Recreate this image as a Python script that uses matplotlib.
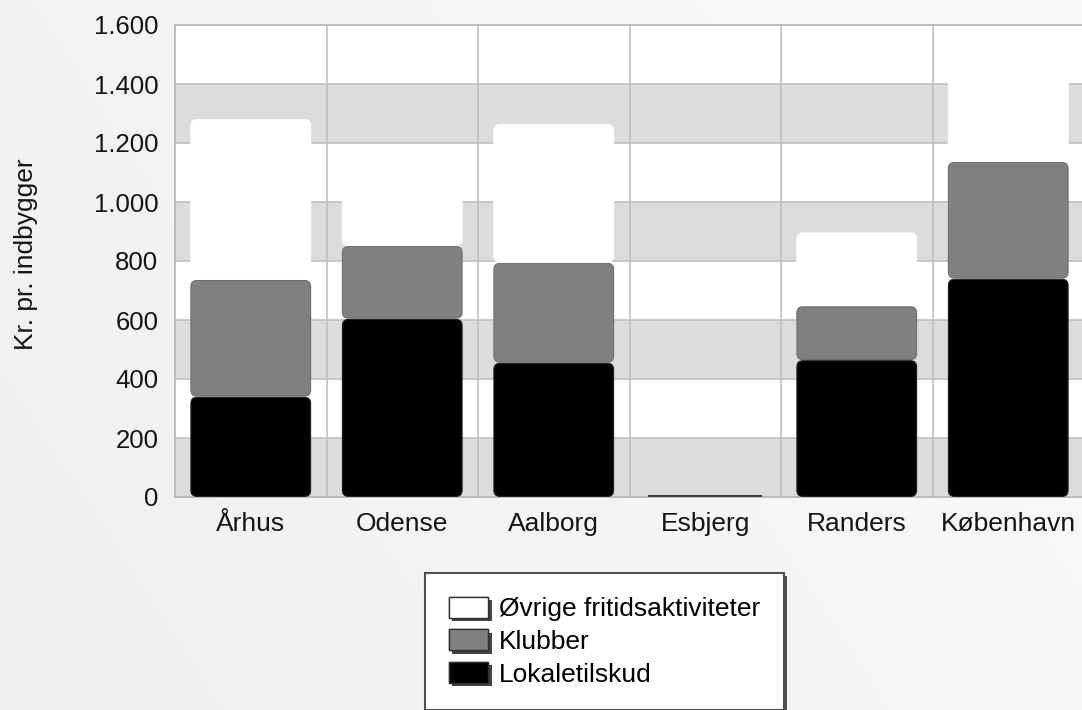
import numpy as np
import matplotlib
matplotlib.use("Agg")
import matplotlib.pyplot as plt
from matplotlib.patches import FancyBboxPatch, Patch
import matplotlib.patheffects as pe
from matplotlib.ticker import FuncFormatter

# data (kr. pr. indbygger)
byer = ["Århus", "Odense", "Aalborg", "Esbjerg", "Randers", "København"]
lokaletilskud = [340, 604, 455, 4, 464, 740]
klubber = [396, 247, 339, 0, 183, 396]
oevrige = [545, 250, 470, 0, 250, 420]

serier = ["Lokaletilskud", "Klubber", "Øvrige fritidsaktiviteter"]
farver = ["#000000", "#808080", "#ffffff"]
kanter = ["#202020", "#707070", "#ffffff"]

plt.rcParams["font.family"] = ["Liberation Sans", "DejaVu Sans"]
tekst = "#151515"

W, H = 1082, 710
fig = plt.figure(figsize=(W / 100, H / 100), dpi=100)

# diagonal gradient background
bg = fig.add_axes([0, 0, 1, 1], zorder=-10)
xx, yy = np.meshgrid(np.linspace(0, 1, 200), np.linspace(0, 1, 200))
grad = 0.935 + 0.045 * np.clip(0.7 * xx + 0.3 * (1 - yy), 0, 1)
bg.imshow(grad, cmap="gray", vmin=0, vmax=1, aspect="auto", extent=[0, 1, 0, 1])
bg.axis("off")

x0, x1 = 175, 1084
ytop, ybot = 25, 497
ax = fig.add_axes([x0 / W, 1 - ybot / H, (x1 - x0) / W, (ybot - ytop) / H])
ax.set_xlim(-0.5, 5.5)
ax.set_ylim(0, 1600)
ax.set_facecolor("white")

# alternating bands + grid
for lo in range(0, 1600, 400):
    ax.axhspan(lo, lo + 200, color="#dcdcdc", lw=0, zorder=0)
for v in range(200, 1600, 200):
    ax.axhline(v, color="#c0c0c0", lw=1.2, zorder=0.5)
for b in np.arange(0.5, 5.5, 1):
    ax.axvline(b, color="#c0c0c0", lw=1.2, zorder=0.5)

for s in ax.spines.values():
    s.set_color("#b4b4b4")
    s.set_linewidth(1.2)
ax.spines["right"].set_visible(False)

# rounded stacked bars
px_x = (x1 - x0) / 6.0
px_y = (ybot - ytop) / 1600.0
aspect = (1 / px_y) / (1 / px_x)
bredde = 0.79
rund = 6 / px_x
gap = 1.2 / px_y

bund = np.zeros(len(byer))
for vals, fc, ec in zip([lokaletilskud, klubber, oevrige], farver, kanter):
    for i, v in enumerate(vals):
        if v <= 0:
            continue
        h = v - gap
        r = min(rund, (h * 0.5) / aspect) if h > 0 else 0
        if h < 2 / px_y:
            ax.plot([i - bredde / 2 + 0.02, i + bredde / 2 - 0.02], [v, v],
                    color="#404040", lw=1.5, zorder=3, solid_capstyle="butt")
            continue
        p = FancyBboxPatch((i - bredde / 2, bund[i] + gap / 2), bredde, h,
                           boxstyle="round,pad=0,rounding_size=%f" % r,
                           mutation_aspect=aspect, fc=fc, ec=ec, lw=0.8, zorder=3)
        ax.add_patch(p)
    bund += np.array(vals)

ax.set_xticks(range(len(byer)))
ax.set_xticklabels(byer, fontsize=19, color=tekst)
ax.set_yticks(range(0, 1601, 200))
ax.yaxis.set_major_formatter(FuncFormatter(lambda v, _: f"{int(v):,}".replace(",", ".")))
ax.tick_params(axis="y", length=0, pad=12, labelsize=18.5, labelcolor=tekst)
ax.tick_params(axis="x", length=0, pad=11)

ax.set_ylabel("Kr. pr. indbygger", fontsize=19, color=tekst)
ax.yaxis.set_label_coords((38 - x0) / (x1 - x0), (ybot - 254) / (ybot - ytop))

# legend
skygge = [pe.withSimplePatchShadow(offset=(2.5, -2.5), shadow_rgbFace="#303030", alpha=0.9), pe.Normal()]
handles = [Patch(fc=farver[k], ec="#303030", lw=1.0, label=serier[k], path_effects=skygge)
           for k in [2, 1, 0]]
leg = fig.legend(handles=handles, loc="upper left", bbox_to_anchor=(425 / W, 1 - 573 / H),
                 fontsize=19, frameon=True, fancybox=False,
                 shadow={"facecolor": "#505050", "edgecolor": "none", "alpha": 1.0},
                 handlelength=1.5, handleheight=0.85, handletextpad=0.4,
                 labelspacing=0.3, borderpad=0.9, borderaxespad=0)
leg.get_frame().set_edgecolor("#505050")
leg.get_frame().set_linewidth(1.5)
leg.get_frame().set_facecolor("white")

fig.savefig("out.png", dpi=100)
